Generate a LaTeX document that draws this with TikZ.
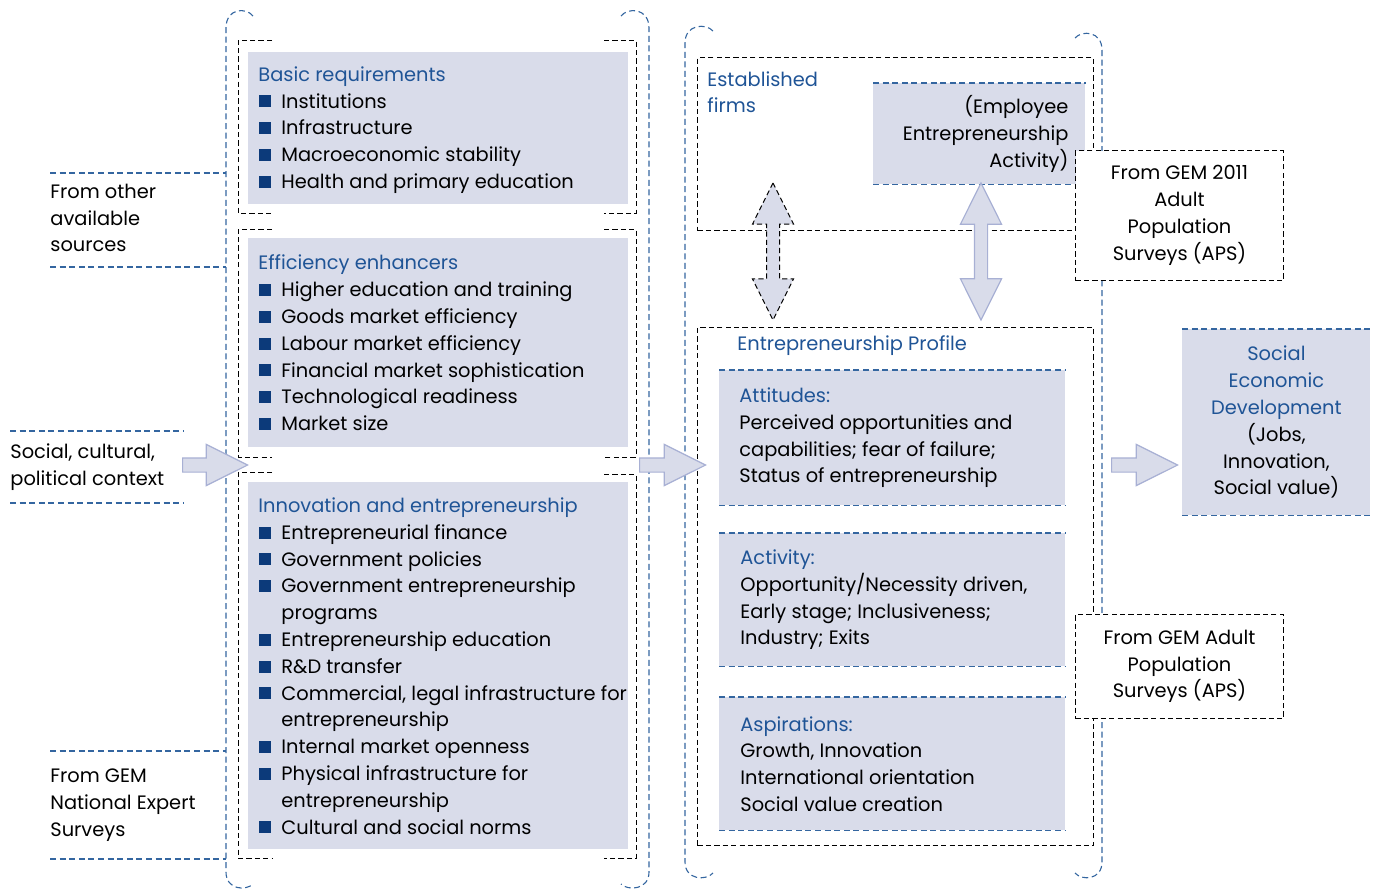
\documentclass[tikz,border=0pt]{standalone}
\usepackage{fontspec}
\setmainfont{Poppins}
\usepackage{tikz}
\usetikzlibrary{shapes,arrows}
\definecolor{gemgray}{RGB}{217,220,234}
\definecolor{gemtitle}{RGB}{31,84,150}
\definecolor{gembullet}{RGB}{12,58,122}
\definecolor{gemdash}{RGB}{52,102,160}
\definecolor{arrowline}{RGB}{168,176,212}
\newcommand{\gemfont}{\fontsize{9.7}{13.4}\selectfont}
\newcommand{\sq}{\makebox[11.5pt][l]{\hspace{0.5pt}\textcolor{gembullet}{\rule[0.3pt]{6pt}{6pt}}}}
\newcommand{\ind}{\hspace*{11.5pt}}
\tikzstyle{bluedash}=[draw=gemdash, dash pattern=on 3pt off 1.8pt, line width=0.55pt]
\tikzstyle{blackdash}=[draw=black, dash pattern=on 2.6pt off 1.6pt, line width=0.5pt]
\tikzstyle{graybox}=[fill=gemgray, inner sep=0pt, anchor=north west]
\tikzstyle{framebox}=[blackdash, inner sep=0pt, anchor=north west]
\tikzstyle{srcbox}=[blackdash, fill=white, inner sep=0pt, anchor=north west, align=center, font=\gemfont]
\tikzstyle{listtext}=[align=left, inner sep=0pt, anchor=west, font=\gemfont]
\tikzstyle{flowarrow}=[single arrow, fill=gemgray, draw=arrowline, line width=0.6pt, inner sep=3.25pt, minimum width=20pt, single arrow head extend=6.75pt, single arrow tip angle=53, anchor=tail]
\tikzstyle{linkarrow}=[double arrow, fill=gemgray, inner sep=3pt, minimum width=20pt, minimum height=68.5pt, double arrow head extend=7pt, double arrow tip angle=53, rotate=90]
\begin{document}
\begin{tikzpicture}[x=0.5pt,y=-0.5pt]
\useasboundingbox (0,0) rectangle (1378,891);
% blue brackets
\draw[bluedash] (253,16) .. controls (246,7) and (226,8) .. (226,28) -- (226,872) .. controls (226,890) and (246,891) .. (253,884);
\draw[bluedash] (621,16) .. controls (628,7) and (649,8) .. (649,28) -- (649,872) .. controls (649,890) and (628,891) .. (621,884);
\draw[bluedash] (713,31) .. controls (706,23) and (685,24) .. (685,43) -- (685,862) .. controls (685,880) and (706,881) .. (713,873);
\draw[bluedash] (1075,38) .. controls (1082,30) and (1102,31) .. (1102,50) -- (1102,862) .. controls (1102,880) and (1082,881) .. (1075,873);
% black brackets of the pillars
\draw[blackdash] (272,40) -- (238,40) -- (238,213) -- (272,213);
\draw[blackdash] (272,229) -- (238,229) -- (238,457) -- (272,457);
\draw[blackdash] (272,472) -- (238,472) -- (238,858) -- (272,858);
\draw[blackdash] (604,40) -- (636,40) -- (636,213) -- (604,213);
\draw[blackdash] (604,229) -- (636,229) -- (636,457) -- (604,457);
\draw[blackdash] (604,474) -- (636,474) -- (636,858) -- (604,858);
% sources on the left
\node[listtext] (othersrc) at (50,218) {From other\\available\\sources};
\draw[bluedash] (othersrc.west |- 0,173) -- (226,173);
\draw[bluedash] (othersrc.west |- 0,267) -- (226,267);
\node[listtext] (context) at (10,467) {Social, cultural,\\political context};
\draw[bluedash] (context.west |- 0,431) -- (183,431);
\draw[bluedash] (context.west |- 0,503) -- (183,503);
\node[listtext] (expert) at (50,805) {From GEM\\National Expert\\Surveys};
\draw[bluedash] (expert.west |- 0,751) -- (226,751);
\draw[bluedash] (expert.west |- 0,859) -- (226,859);
% pillars
\node[graybox, minimum width=190pt, minimum height=76pt] (basic) at (248,52) {};
\node[listtext] (basictxt) at ([xshift=5pt,yshift=-0.8pt]basic.west) {\textcolor{gemtitle}{Basic requirements}\\
\sq Institutions\\
\sq Infrastructure\\
\sq Macroeconomic stability\\
\sq Health and primary education};
\node[graybox, minimum width=190pt, minimum height=104.5pt] (effic) at (248,238) {};
\node[listtext] (effictxt) at ([xshift=5pt]effic.west) {\textcolor{gemtitle}{Efficiency enhancers}\\
\sq Higher education and training\\
\sq Goods market efficiency\\
\sq Labour market efficiency\\
\sq Financial market sophistication\\
\sq Technological readiness\\
\sq Market size};
\node[graybox, minimum width=190pt, minimum height=183.5pt] (innov) at (248,482) {};
\node[listtext] (innovtxt) at ([xshift=5pt]innov.west) {\textcolor{gemtitle}{Innovation and entrepreneurship}\\
\sq Entrepreneurial finance\\
\sq Government policies\\
\sq Government entrepreneurship\\
\ind programs\\
\sq Entrepreneurship education\\
\sq R\&D transfer\\
\sq Commercial, legal infrastructure for\\
\ind entrepreneurship\\
\sq Internal market openness\\
\sq Physical infrastructure for\\
\ind entrepreneurship\\
\sq Cultural and social norms};
% established firms
\node[framebox, minimum width=198pt, minimum height=86.5pt] (estab) at (697,57) {};
\node[align=left, inner sep=0pt, anchor=north west, font=\gemfont, text=gemtitle] (estabtxt) at (707,71) {Established\\firms};
\node[graybox, minimum width=106pt, minimum height=50.5pt] (employee) at (873,83) {};
\draw[bluedash] (employee.north west) -- (employee.north east);
\draw[bluedash] (employee.south west) -- (employee.south east);
\node[align=right, inner sep=0pt, anchor=east, font=\gemfont] (employeetxt) at ([xshift=-8.5pt]employee.east) {(Employee\\Entrepreneurship\\Activity)};
% entrepreneurship profile
\node[framebox, minimum width=198pt, minimum height=259pt] (profile) at (697,327) {};
\node[inner sep=0pt, anchor=west, font=\gemfont, text=gemtitle] (profiletxt) at (737,346) {Entrepreneurship Profile};
\node[graybox, minimum width=173pt, minimum height=67.5pt] (attitudes) at (719,370) {};
\draw[bluedash] (attitudes.north west) -- (attitudes.north east);
\draw[bluedash] (attitudes.south west) -- (attitudes.south east);
\node[listtext] (attitudestxt) at ([xshift=10pt]attitudes.west) {\textcolor{gemtitle}{Attitudes:}\\
Perceived opportunities and\\
capabilities; fear of failure;\\
Status of entrepreneurship};
\node[graybox, minimum width=173pt, minimum height=66.5pt] (activity) at (719,533) {};
\draw[bluedash] (activity.north west) -- (activity.north east);
\draw[bluedash] (activity.south west) -- (activity.south east);
\node[listtext] (activitytxt) at ([xshift=10.5pt]activity.west) {\textcolor{gemtitle}{Activity:}\\
Opportunity/Necessity driven,\\
Early stage; Inclusiveness;\\
Industry; Exits};
\node[graybox, minimum width=173pt, minimum height=66.5pt] (aspir) at (719,697) {};
\draw[bluedash] (aspir.north west) -- (aspir.north east);
\draw[bluedash] (aspir.south west) -- (aspir.south east);
\node[listtext] (aspirtxt) at ([xshift=10.5pt]aspir.west) {\textcolor{gemtitle}{Aspirations:}\\
Growth, Innovation\\
International orientation\\
Social value creation};
% APS sources
\node[srcbox, minimum width=104pt, minimum height=65pt] (aps) at (1075,150) {From GEM 2011\\Adult\\Population\\Surveys (APS)};
\node[srcbox, minimum width=104pt, minimum height=52pt] (apsadult) at (1075,614) {From GEM Adult\\Population\\Surveys (APS)};
% outcome
\node[graybox, minimum width=94pt, minimum height=93pt] (social) at (1182,329) {};
\draw[bluedash] (social.north west) -- (social.north east);
\draw[bluedash] (social.south west) -- (social.south east);
\node[align=center, inner sep=0pt, font=\gemfont] (socialtxt) at (social.center) {\textcolor{gemtitle}{Social}\\\textcolor{gemtitle}{Economic}\\\textcolor{gemtitle}{Development}\\(Jobs,\\Innovation,\\Social value)};
% arrows
\node[flowarrow, minimum height=32.5pt] (contextarr) at (182,465) {};
\node[flowarrow, minimum height=33pt] (profilearr) at (639,465) {};
\node[flowarrow, minimum height=33pt] (socialarr) at (1111,465) {};
\node[linkarrow, blackdash] (firmsarr) at (773,251.5) {};
\node[linkarrow, draw=arrowline, line width=0.6pt] (employeearr) at (981,251.5) {};
\end{tikzpicture}
\end{document}
